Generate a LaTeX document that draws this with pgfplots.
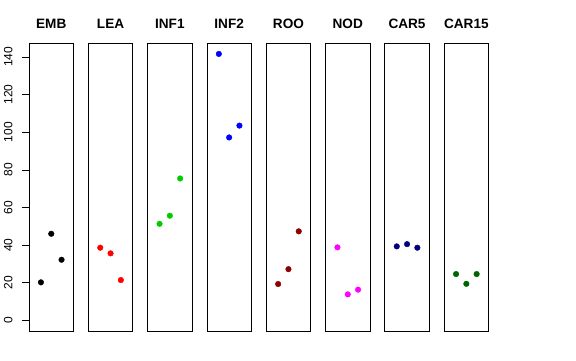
\documentclass[border=0pt]{standalone}
\usepackage{fontspec}
\setmainfont{Liberation Sans}
\usepackage{pgfplots}
\pgfplotsset{compat=1.18}
\definecolor{rblack}{HTML}{000000}
\definecolor{rred}{HTML}{FF0000}
\definecolor{rgreen}{HTML}{00CD00}
\definecolor{rblue}{HTML}{0000FF}
\definecolor{rdarkred}{HTML}{8B0000}
\definecolor{rmagenta}{HTML}{FF00FF}
\definecolor{rnavy}{HTML}{000080}
\definecolor{rdarkgreen}{HTML}{006400}
\pgfplotsset{
  panel/.style={
    anchor=south west, scale only axis, width=44.5pt, height=288pt,
    xmin=-0.16, xmax=4.16, ymin=-5.67, ymax=147.4,
    xtick=\empty, ytick=\empty,
    axis line style={black, line width=0.8pt},
    title style={at={(0.5,1)}, anchor=base, yshift=9pt, font=\fontsize{13.6}{14}\selectfont\bfseries},
    only marks,
  },
}
\begin{document}
\begin{tikzpicture}
\path[use as bounding box] (0,0) rectangle (576pt,360pt);
\begin{axis}[panel, at={(29pt,29pt)}, title={EMB},
  ytick={0,20,...,140}, ytick pos=left, tick align=outside, major tick length=7pt,
  ytick style={black, line width=0.6pt},
  /pgf/number format/assume math mode=true,
  yticklabel style={rotate=90, anchor=south, yshift=6pt, font=\fontsize{12}{12}\selectfont}]
\addplot[mark=*, mark size=2.8pt, rblack] coordinates {(1,20.2) (2,46.0) (3,32.2)};
\end{axis}
\begin{axis}[panel, at={(88.3pt,29pt)}, title={LEA}]
\addplot[mark=*, mark size=2.8pt, rred] coordinates {(1,38.6) (2,35.6) (3,21.4)};
\end{axis}
\begin{axis}[panel, at={(147.6pt,29pt)}, title={INF1}]
\addplot[mark=*, mark size=2.8pt, rgreen] coordinates {(1,51.3) (2,55.6) (3,75.4)};
\end{axis}
\begin{axis}[panel, at={(206.9pt,29pt)}, title={INF2}]
\addplot[mark=*, mark size=2.8pt, rblue] coordinates {(1,141.6) (2,97.2) (3,103.5)};
\end{axis}
\begin{axis}[panel, at={(266.2pt,29pt)}, title={ROO}]
\addplot[mark=*, mark size=2.8pt, rdarkred] coordinates {(1,19.3) (2,27.2) (3,47.3)};
\end{axis}
\begin{axis}[panel, at={(325.5pt,29pt)}, title={NOD}]
\addplot[mark=*, mark size=2.8pt, rmagenta] coordinates {(1,38.8) (2,13.8) (3,16.3)};
\end{axis}
\begin{axis}[panel, at={(384.8pt,29pt)}, title={CAR5}]
\addplot[mark=*, mark size=2.8pt, rnavy] coordinates {(1,39.3) (2,40.5) (3,38.6)};
\end{axis}
\begin{axis}[panel, at={(444.1pt,29pt)}, title={CAR15}]
\addplot[mark=*, mark size=2.8pt, rdarkgreen] coordinates {(1,24.6) (2,19.4) (3,24.6)};
\end{axis}
\end{tikzpicture}
\end{document}
